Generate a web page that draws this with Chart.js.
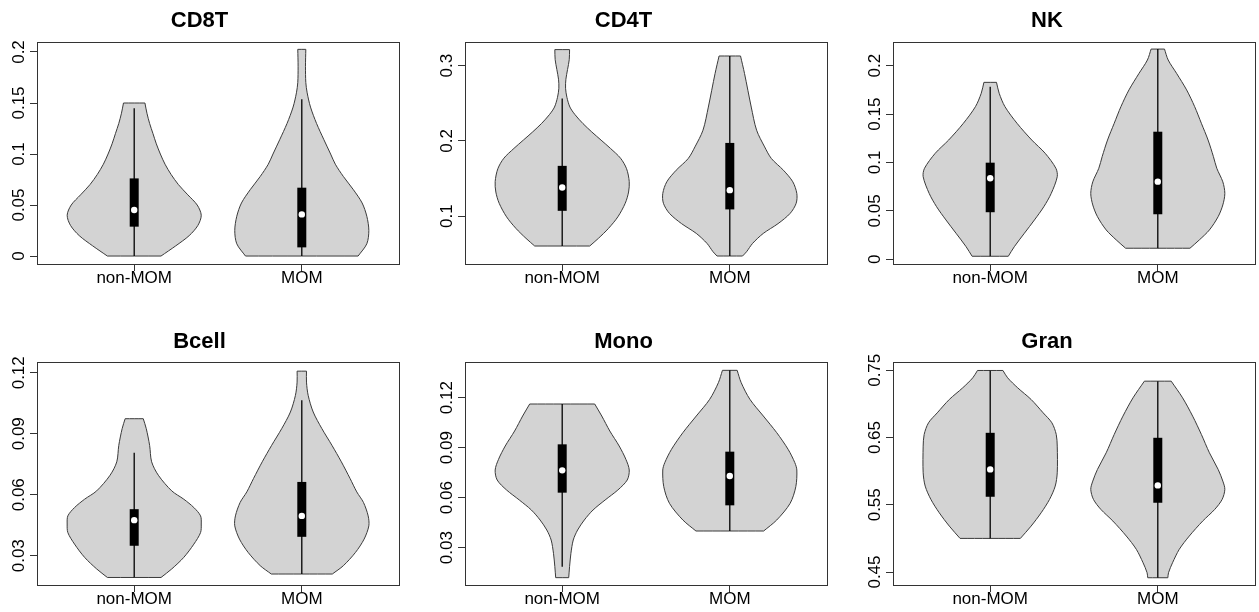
<!DOCTYPE html>
<html>
<head>
<meta charset="utf-8">
<script src="https://cdn.jsdelivr.net/npm/chart.js@4.4.1/dist/chart.umd.min.js"></script>
<style>
  html, body { margin: 0; padding: 0; background: #fff; width: 1259px; height: 612px; overflow: hidden; }
  canvas { position: absolute; }
</style>
</head>
<body>
<script>
// panels and groups
const panelNames = ["CD8T", "CD4T", "NK", "Bcell", "Mono", "Gran"];
const groupNames = ["non-MOM", "MOM"];
const groupPositions = [1, 2];

// y axis range and ticks for each panel
const yMin = [-0.0078, 0.0363, -0.0049, 0.0156, 0.0076, 0.4307];
const yMax = [0.2098, 0.3315, 0.2245, 0.1253, 0.1414, 0.7623];
const yTicks = [
    [0, 0.05, 0.1, 0.15, 0.2],
    [0.1, 0.2, 0.3],
    [0, 0.05, 0.1, 0.15, 0.2],
    [0.03, 0.06, 0.09, 0.12],
    [0.03, 0.06, 0.09, 0.12],
    [0.45, 0.55, 0.65, 0.75]
];
const yTickLabels = [
    ["0", "0.05", "0.1", "0.15", "0.2"],
    ["0.1", "0.2", "0.3"],
    ["0", "0.05", "0.1", "0.15", "0.2"],
    ["0.03", "0.06", "0.09", "0.12"],
    ["0.03", "0.06", "0.09", "0.12"],
    ["0.45", "0.55", "0.65", "0.75"]
];

// box plot stats, [non-MOM, MOM] per panel
const lowerWhisker  = [[0, 0], [0.0602, 0.0469], [0.0031, 0.0114], [0.0193, 0.021], [0.0186, 0.040], [0.500, 0.4415]];
const firstQuartile = [[0.0288, 0.0085], [0.107, 0.1089], [0.0486, 0.0465], [0.0349, 0.0393], [0.063, 0.0554], [0.5619, 0.553]];
const medians       = [[0.0451, 0.0408], [0.1381, 0.1345], [0.0837, 0.0802], [0.0475, 0.0496], [0.0764, 0.073], [0.6026, 0.5788]];
const thirdQuartile = [[0.0761, 0.067], [0.1668, 0.1973], [0.0998, 0.1318], [0.0529, 0.0663], [0.092, 0.0876], [0.657, 0.6496]];
const upperWhisker  = [[0.1448, 0.1536], [0.2563, 0.3129], [0.1783, 0.2172], [0.0807, 0.1065], [0.1162, 0.1364], [0.7497, 0.7338]];

// violin outlines: levels (y) and relative half widths (1 = widest)
const cd8tLevels = [
    [0, 0.01, 0.02, 0.03, 0.04, 0.05, 0.06, 0.07, 0.08, 0.09, 0.10, 0.11, 0.12, 0.13, 0.14, 0.15],
    [0, 0.012, 0.025, 0.039, 0.052, 0.065, 0.078, 0.09, 0.10, 0.114, 0.13, 0.146, 0.16, 0.17, 0.186, 0.2026]
];
const cd8tWidths = [
    [0.40, 0.62, 0.82, 0.95, 1.0, 0.94, 0.80, 0.66, 0.55, 0.46, 0.39, 0.33, 0.28, 0.23, 0.19, 0.16],
    [0.84, 0.97, 1.0, 0.97, 0.90, 0.77, 0.62, 0.50, 0.43, 0.33, 0.22, 0.13, 0.08, 0.06, 0.055, 0.06]
];
const cd4tLevels = [
    [0.0602, 0.0704, 0.0836, 0.099, 0.117, 0.132, 0.146, 0.163, 0.177, 0.19, 0.201, 0.212, 0.223, 0.235, 0.245, 0.258, 0.27, 0.282, 0.295, 0.308, 0.3214],
    [0.0469, 0.0526, 0.0637, 0.077, 0.09, 0.1036, 0.117, 0.13, 0.1456, 0.161, 0.1766, 0.192, 0.2142, 0.245, 0.2895, 0.3129]
];
const cd4tWidths = [
    [0.41, 0.54, 0.69, 0.83, 0.94, 0.99, 1.0, 0.96, 0.87, 0.72, 0.58, 0.44, 0.31, 0.19, 0.115, 0.07, 0.05, 0.055, 0.08, 0.105, 0.11],
    [0.19, 0.25, 0.34, 0.50, 0.72, 0.90, 0.99, 1.0, 0.94, 0.80, 0.62, 0.52, 0.40, 0.32, 0.22, 0.16]
];
const nkLevels = [
    [0.0031, 0.013, 0.0269, 0.0406, 0.0543, 0.068, 0.0853, 0.094, 0.1095, 0.1232, 0.1405, 0.1577, 0.1715, 0.1828],
    [0.0114, 0.020, 0.0303, 0.044, 0.0561, 0.068, 0.080, 0.094, 0.106, 0.1232, 0.1405, 0.1577, 0.175, 0.1921, 0.2059, 0.2172]
];
const nkWidths = [
    [0.27, 0.36, 0.51, 0.66, 0.80, 0.91, 1.0, 0.98, 0.82, 0.62, 0.40, 0.22, 0.134, 0.094],
    [0.48, 0.62, 0.77, 0.90, 0.97, 1.0, 0.97, 0.88, 0.83, 0.75, 0.65, 0.55, 0.43, 0.28, 0.155, 0.10]
];
const bcellLevels = [
    [0.0193, 0.0235, 0.0292, 0.0357, 0.0414, 0.0456, 0.0496, 0.0537, 0.0578, 0.0619, 0.0696, 0.0762, 0.0843, 0.0925, 0.0974],
    [0.021, 0.0251, 0.0316, 0.0382, 0.0447, 0.0496, 0.0562, 0.0614, 0.068, 0.0762, 0.0843, 0.0925, 0.1007, 0.1089, 0.1154, 0.1208]
];
const bcellWidths = [
    [0.40, 0.56, 0.74, 0.89, 0.99, 1.0, 0.99, 0.89, 0.74, 0.56, 0.36, 0.26, 0.23, 0.18, 0.135],
    [0.455, 0.62, 0.80, 0.93, 1.0, 0.99, 0.92, 0.82, 0.72, 0.59, 0.45, 0.30, 0.17, 0.095, 0.07, 0.07]
];
const monoLevels = [
    [0.012, 0.0186, 0.0266, 0.0346, 0.0406, 0.0466, 0.0526, 0.0586, 0.0646, 0.0706, 0.0766, 0.083, 0.091, 0.100, 0.109, 0.1162],
    [0.040, 0.0466, 0.0566, 0.0666, 0.0766, 0.081, 0.089, 0.099, 0.109, 0.119, 0.129, 0.1364]
];
const monoWidths = [
    [0.097, 0.11, 0.13, 0.165, 0.23, 0.33, 0.46, 0.64, 0.83, 0.97, 1.0, 0.95, 0.85, 0.71, 0.59, 0.485],
    [0.505, 0.70, 0.90, 0.985, 1.0, 0.97, 0.87, 0.70, 0.50, 0.30, 0.17, 0.11]
];
const granLevels = [
    [0.500, 0.5183, 0.5381, 0.558, 0.5778, 0.5976, 0.6372, 0.6546, 0.6719, 0.6867, 0.7066, 0.7239, 0.7388, 0.7497],
    [0.4415, 0.449, 0.4638, 0.4837, 0.5035, 0.5258, 0.5432, 0.558, 0.5729, 0.5852, 0.6026, 0.6273, 0.6546, 0.6818, 0.709, 0.7338]
];
const granWidths = [
    [0.45, 0.61, 0.76, 0.885, 0.97, 1.0, 1.0, 0.985, 0.92, 0.79, 0.61, 0.41, 0.26, 0.19],
    [0.15, 0.16, 0.22, 0.32, 0.47, 0.67, 0.85, 0.96, 1.0, 0.97, 0.90, 0.77, 0.65, 0.52, 0.37, 0.20]
];

const violinLevels = [cd8tLevels, cd4tLevels, nkLevels, bcellLevels, monoLevels, granLevels];
const violinWidths = [cd8tWidths, cd4tWidths, nkWidths, bcellWidths, monoWidths, granWidths];

// layout (pixels)
const colLeft = [0, 420, 839];
const axisWidth = [37, 45, 54];
const plotWidth = 362;
const rowTop = [0, 306];
const titlePadTop = [8, 22.5];
const titlePadBottom = [7.6, 7.1];
const xAxisHeight = [42, 27];
const maxHalfWidth = 0.4;
const fontFamily = '"Liberation Sans", Arial, Helvetica, sans-serif';

// closed outline; corner points are doubled so the curve keeps sharp corners
function violinPoints(center, levels, widths) {
    const n = levels.length;
    const left = levels.map((v, k) => ({ x: center - widths[k] * maxHalfWidth, y: v }));
    const right = levels.map((v, k) => ({ x: center + widths[k] * maxHalfWidth, y: v })).reverse();
    const pts = [left[0]].concat(left, [left[n - 1]], [right[0]], right, [right[n - 1]], [left[0]]);
    return pts;
}

// draws the plot frame and the rotated y tick labels
const framePlugin = {
    id: "frame",
    afterDraw(chart) {
        const { ctx, chartArea: a } = chart;
        const y = chart.scales.y;
        ctx.save();
        ctx.strokeStyle = "#333";
        ctx.lineWidth = 1;
        ctx.strokeRect(Math.round(a.left) + 0.5, Math.round(a.top) + 0.5,
            Math.round(a.right - a.left), Math.round(a.bottom - a.top));
        ctx.fillStyle = "#000";
        ctx.font = "17px " + fontFamily;
        ctx.textAlign = "center";
        ctx.textBaseline = "alphabetic";
        y.ticks.forEach(t => {
            const py = y.getPixelForValue(t.value);
            ctx.save();
            ctx.translate(a.left - 13, py);
            ctx.rotate(-Math.PI / 2);
            ctx.fillText(t.label, 0, 0);
            ctx.restore();
        });
        ctx.restore();
    }
};

panelNames.forEach((name, i) => {
    const col = i % 3;
    const row = Math.floor(i / 3);
    const canvas = document.createElement("canvas");
    const w = plotWidth + 2 * axisWidth[col];
    canvas.width = w;
    canvas.height = 306;
    canvas.style.left = colLeft[col] + "px";
    canvas.style.top = rowTop[row] + "px";
    canvas.style.width = w + "px";
    canvas.style.height = "306px";
    document.body.appendChild(canvas);

    const datasets = [];
    groupPositions.forEach((c, g) => {
        datasets.push({
            data: violinPoints(c, violinLevels[i][g], violinWidths[i][g]),
            showLine: true,
            fill: "shape",
            backgroundColor: "#d3d3d3",
            borderColor: "#3a3a3a",
            borderWidth: 1,
            tension: 0.3,
            pointRadius: 0,
            order: 4
        });
        datasets.push({
            data: [{ x: c, y: lowerWhisker[i][g] }, { x: c, y: upperWhisker[i][g] }],
            showLine: true,
            borderColor: "#000",
            borderWidth: 1.3,
            pointRadius: 0,
            order: 3
        });
        datasets.push({
            data: [{ x: c, y: firstQuartile[i][g] }, { x: c, y: thirdQuartile[i][g] }],
            showLine: true,
            borderColor: "#000",
            borderWidth: 9,
            borderCapStyle: "butt",
            pointRadius: 0,
            order: 2
        });
        datasets.push({
            data: [{ x: c, y: medians[i][g] }],
            pointRadius: 3.2,
            pointBackgroundColor: "#fff",
            pointBorderWidth: 0,
            order: 1
        });
    });

    new Chart(canvas, {
        type: "scatter",
        data: { datasets: datasets },
        options: {
            responsive: false,
            animation: false,
            events: [],
            layout: { padding: { left: 0, right: axisWidth[col], top: 0, bottom: 0 } },
            plugins: {
                legend: { display: false },
                tooltip: { enabled: false },
                title: {
                    display: true,
                    text: name,
                    color: "#000",
                    font: { family: fontFamily, size: 22, weight: "bold" },
                    padding: { top: titlePadTop[row], bottom: titlePadBottom[row] }
                }
            },
            scales: {
                x: {
                    type: "linear",
                    min: 0.42,
                    max: 2.58,
                    afterBuildTicks: s => { s.ticks = groupPositions.map(v => ({ value: v })); },
                    afterFit: s => { s.height = xAxisHeight[row]; },
                    ticks: {
                        callback: (v, k) => groupNames[k],
                        color: "#000",
                        font: { family: fontFamily, size: 17 },
                        padding: -3,
                        maxRotation: 0,
                        autoSkip: false
                    },
                    grid: { drawOnChartArea: false, drawTicks: true, tickLength: 7, color: "#333" },
                    border: { display: false }
                },
                y: {
                    type: "linear",
                    min: yMin[i],
                    max: yMax[i],
                    afterBuildTicks: s => { s.ticks = yTicks[i].map(v => ({ value: v })); },
                    afterFit: s => { s.width = axisWidth[col]; },
                    ticks: {
                        display: false,
                        callback: (v, k) => yTickLabels[i][k]
                    },
                    grid: { drawOnChartArea: false, drawTicks: true, tickLength: 7, color: "#333" },
                    border: { display: false }
                }
            }
        },
        plugins: [framePlugin]
    });
});
</script>
</body>
</html>
